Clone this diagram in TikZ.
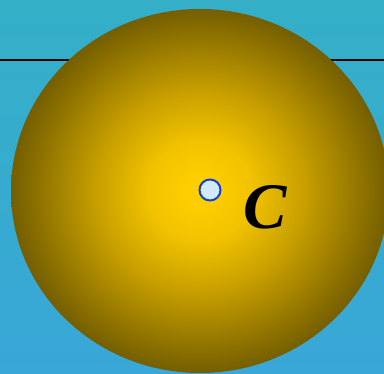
\documentclass[tikz,border=0pt]{standalone}
\usepackage{fontspec}
\setmainfont{Liberation Serif}
\usetikzlibrary{positioning}

\definecolor{skytop}{RGB}{52,175,199}
\definecolor{skybottom}{RGB}{57,167,215}
\definecolor{ballinner}{RGB}{255,206,0}
\definecolor{ballbright}{RGB}{240,194,0}
\definecolor{ballmid}{RGB}{198,158,0}
\definecolor{ballouter}{RGB}{116,94,0}
\definecolor{dotfill}{RGB}{210,234,255}
\definecolor{dotline}{RGB}{24,64,204}

\pgfdeclareradialshading{ball}{\pgfpoint{0bp}{0bp}}{%
  color(0bp)=(ballinner); color(2bp)=(ballinner); color(7bp)=(ballbright);
  color(14bp)=(ballmid); color(25bp)=(ballouter); color(50bp)=(ballouter)}

\tikzset{
  centre/.style={circle, draw=dotline, fill=dotfill, line width=2pt,
    minimum size=21pt, inner sep=0pt},
  ballname/.style={inner sep=0pt, font=\fontsize{65}{65}\selectfont\bfseries\itshape}
}

\begin{document}
\begin{tikzpicture}[x=1pt,y=-1pt]
  \shade[top color=skytop, bottom color=skybottom] (0,0) rectangle (384,374);
  \useasboundingbox (0,0) rectangle (384,374);
  \coordinate (l) at (0,60);
  \coordinate (r) at (384,60);
  \draw[line width=1.6pt] (l) -- (r);
  \shade[shading=ball] (200,191) ellipse [x radius=189, y radius=182];
  \node [centre] (dot) at (210,190) {};
  \node [ballname, right=22pt of dot, yshift=-17pt] (c) {C};
\end{tikzpicture}
\end{document}
